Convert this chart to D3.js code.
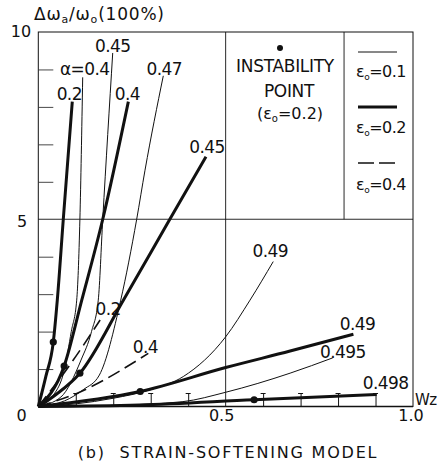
<!DOCTYPE html>
<html>
<head>
<meta charset="utf-8">
<script src="https://cdn.jsdelivr.net/npm/d3@7"></script>
<style>
  html, body { margin: 0; padding: 0; background: #fff; }
  svg { display: block; }
  text { font-family: "DejaVu Sans", sans-serif; fill: #111; }
</style>
</head>
<body>
<svg id="chart" width="439" height="470"></svg>
<script>
// Frequency shift Δω/ω0 against Wz, strain-softening model.
// Curves grouped by s0 (thin 0.1, thick 0.2, dashed 0.4), labelled by α.

// s0 = 0.1 (thin lines)
const thin_a040  = [[0,0],[0.04,0.3],[0.07,1.0],[0.088,2.0],[0.1025,2.84],[0.111,5.0],[0.1185,8.79]];
const thin_a045  = [[0,0],[0.06,0.25],[0.114,1.24],[0.142,2.0],[0.160,2.84],[0.172,5.0],[0.1986,9.44]];
const thin_a047  = [[0,0],[0.07,0.15],[0.12,0.45],[0.163,0.84],[0.22,2.84],[0.2626,5.0],[0.2848,6.31],[0.3336,8.83]];
const thin_a049  = [[0,0],[0.1,0.07],[0.2,0.22],[0.3,0.45],[0.387,0.80],[0.5,1.86],[0.565,2.84],[0.627,3.87]];
const thin_a0495 = [[0,0],[0.2,0.03],[0.386,0.13],[0.5,0.38],[0.672,0.89],[0.786,1.30]];

// s0 = 0.2 (thick lines)
const thick_a020  = [[0,0],[0.02,0.8],[0.040,1.72],[0.0507,2.84],[0.0667,5.0],[0.0907,8.14]];
const thick_a040  = [[0,0],[0.069,1.08],[0.116,2.84],[0.172,5.0],[0.2403,8.14]];
const thick_a045  = [[0,0],[0.05,0.34],[0.111,0.89],[0.227,2.84],[0.351,5.0],[0.4476,6.67]];
const thick_a049  = [[0,0],[0.272,0.40],[0.5,1.04],[0.672,1.48],[0.841,1.93]];
const thick_a0498 = [[0,0],[0.27,0.04],[0.576,0.18],[0.903,0.32]];

// s0 = 0.4 (dashed lines)
const dash_a020 = [[0,0],[0.0842,1.11],[0.165,2.31]];
const dash_a040 = [[0,0],[0.1025,0.35],[0.2936,1.42]];

// instability points (s0 = 0.2)
const instabilityPoints = [[0.040,1.72],[0.069,1.08],[0.111,0.89],[0.272,0.40],[0.576,0.18]];

// axis ticks and labels
const yMinorTicks = [1,2,3,4,6,7,8,9];
const xMinorTicks = [0.1,0.2,0.3,0.4,0.6,0.7,0.8,0.9];
const yTickLabels = ["10","5"];
const xTickLabels = ["0","0.5","1.0"];

const series = [
  { data: thin_a040,   kind: "thin",  label: "α=0.4", off: [2,-2] },
  { data: thin_a045,   kind: "thin",  label: "0.45",  off: [0,-1] },
  { data: thin_a047,   kind: "thin",  label: "0.47",  off: [1,-1] },
  { data: thin_a049,   kind: "thin",  label: "0.49",  off: [-3,-5] },
  { data: thin_a0495,  kind: "thin",  label: "0.495", off: [10,0] },
  { data: thick_a020,  kind: "thick", label: "0.2",   off: [-3,-2] },
  { data: thick_a040,  kind: "thick", label: "0.4",   off: [-1,-2] },
  { data: thick_a045,  kind: "thick", label: "0.45",  off: [1,-4] },
  { data: thick_a049,  kind: "thick", label: "0.49",  off: [4,-4] },
  { data: thick_a0498, kind: "thick", label: "0.498", off: [9,-6] },
  { data: dash_a020,   kind: "dash",  label: "0.2",   off: [8,-5] },
  { data: dash_a040,   kind: "dash",  label: "0.4",   off: [-3,0] }
];

const styles = {
  thin:  { w: 1.0, dash: null },
  thick: { w: 3.0, dash: null },
  dash:  { w: 1.6, dash: "13,6" }
};

const svg = d3.select("#chart");
const x = d3.scaleLinear().domain([0, 1]).range([38.3, 413]);
const y = d3.scaleLinear().domain([0, 10]).range([406.5, 32]);
const ink = "#111";

// frame and reference grid lines
const frame = svg.append("g").attr("stroke", ink).attr("fill", "none");
frame.append("rect")
  .attr("x", x(0)).attr("y", y(10))
  .attr("width", x(1) - x(0)).attr("height", y(0) - y(10))
  .attr("stroke-width", 1);
frame.append("line").attr("x1", x(0.5)).attr("x2", x(0.5)).attr("y1", y(0)).attr("y2", y(10)).attr("stroke-width", 0.9);
frame.append("line").attr("x1", x(0)).attr("x2", x(1)).attr("y1", y(5)).attr("y2", y(5)).attr("stroke-width", 0.9);
frame.append("line").attr("x1", x(0.816)).attr("x2", x(0.816)).attr("y1", y(5)).attr("y2", y(10)).attr("stroke-width", 0.9);
frame.append("line").attr("x1", x(0)).attr("x2", x(1)).attr("y1", y(0)).attr("y2", y(0)).attr("stroke-width", 1.6);

// inward ticks
const yAxis = d3.axisRight(y).tickValues(yMinorTicks).tickSize(15).tickFormat("");
svg.append("g").attr("transform", `translate(${x(0)},0)`).call(yAxis)
  .call(g => g.select(".domain").remove())
  .call(g => g.selectAll("line").attr("stroke", "#333").attr("stroke-width", 0.9));
const xAxis = d3.axisTop(x).tickValues(xMinorTicks).tickSize(13).tickFormat("");
svg.append("g").attr("transform", `translate(0,${y(0)})`).call(xAxis)
  .call(g => g.select(".domain").remove())
  .call(g => g.selectAll("line").attr("stroke", ink).attr("stroke-width", 1));
svg.append("g").selectAll("line").data(xMinorTicks).join("line")
  .attr("x1", d => x(d) - 2.5).attr("x2", d => x(d) + 2.5)
  .attr("y1", y(0) - 13).attr("y2", y(0) - 13)
  .attr("stroke", ink).attr("stroke-width", 1);

// curves
const line = d3.line().x(d => x(d[0])).y(d => y(d[1])).curve(d3.curveMonotoneX);
svg.append("g").selectAll("path").data(series).join("path")
  .attr("d", d => line(d.data))
  .attr("fill", "none")
  .attr("stroke", ink)
  .attr("stroke-width", d => styles[d.kind].w)
  .attr("stroke-dasharray", d => styles[d.kind].dash);

// instability dots
svg.append("g").selectAll("circle").data(instabilityPoints).join("circle")
  .attr("cx", d => x(d[0])).attr("cy", d => y(d[1])).attr("r", 3.6).attr("fill", ink);

// curve labels at their end points
svg.append("g").selectAll("text").data(series).join("text")
  .attr("x", d => x(d.data[d.data.length - 1][0]) + d.off[0])
  .attr("y", d => y(d.data[d.data.length - 1][1]) + d.off[1])
  .attr("text-anchor", "middle")
  .attr("font-size", 17)
  .attr("letter-spacing", -0.6)
  .text(d => d.label);

// tick labels
svg.append("text").attr("x", 21).attr("y", 37).attr("text-anchor", "middle").attr("font-size", 16).text(yTickLabels[0]);
svg.append("text").attr("x", 22).attr("y", 227).attr("text-anchor", "middle").attr("font-size", 16).text(yTickLabels[1]);
svg.append("text").attr("x", 21.5).attr("y", 421).attr("text-anchor", "middle").attr("font-size", 16).text(xTickLabels[0]);
svg.append("text").attr("x", x(0.5) - 4).attr("y", 421).attr("text-anchor", "middle").attr("font-size", 16).text(xTickLabels[1]);
svg.append("text").attr("x", x(1) - 2).attr("y", 421).attr("text-anchor", "middle").attr("font-size", 16).text(xTickLabels[2]);

// axis titles
const yt = svg.append("text").attr("x", 34).attr("y", 20).attr("font-size", 17).attr("letter-spacing", 0.8);
yt.append("tspan").text("Δω");
yt.append("tspan").attr("font-size", 11).attr("dy", 3).text("a");
yt.append("tspan").attr("dy", -3).text("/ω");
yt.append("tspan").attr("font-size", 11).attr("dy", 3).text("o");
yt.append("tspan").attr("dy", -3).text("(100%)");
svg.append("text").attr("x", 415).attr("y", 405).attr("font-size", 15).attr("letter-spacing", -0.5).text("Wz");

// instability legend
svg.append("circle").attr("cx", 280).attr("cy", 48).attr("r", 3).attr("fill", ink);
svg.append("text").attr("x", 285).attr("y", 72).attr("text-anchor", "middle").attr("font-size", 17).attr("letter-spacing", -0.3).text("INSTABILITY");
svg.append("text").attr("x", 289).attr("y", 97).attr("text-anchor", "middle").attr("font-size", 17).attr("letter-spacing", -0.3).text("POINT");
const ip = svg.append("text").attr("x", 290).attr("y", 119).attr("text-anchor", "middle").attr("font-size", 16);
ip.append("tspan").text("(ε");
ip.append("tspan").attr("font-size", 10).attr("dy", 3).text("o");
ip.append("tspan").attr("dy", -3).text("=0.2)");

// line-style legend
const legendRows = [
  { kind: "thin",  label: "0.1", ly: 52,  ty: 77 },
  { kind: "thick", label: "0.2", ly: 107, ty: 133 },
  { kind: "dash",  label: "0.4", ly: 163, ty: 190 }
];
const lg = svg.append("g");
legendRows.forEach(r => {
  lg.append("line").attr("x1", 358).attr("x2", 397).attr("y1", r.ly).attr("y2", r.ly)
    .attr("stroke", ink).attr("stroke-width", styles[r.kind].w)
    .attr("stroke-dasharray", r.kind === "dash" ? "16,5" : null);
  const t = lg.append("text").attr("x", 381).attr("y", r.ty).attr("text-anchor", "middle").attr("font-size", 16).attr("letter-spacing", -0.5);
  t.append("tspan").text("ε");
  t.append("tspan").attr("font-size", 9).attr("dy", 3).text("o");
  t.append("tspan").attr("dy", -3).text("=" + r.label);
});

// caption
svg.append("text").attr("x", 228).attr("y", 458).attr("text-anchor", "middle").attr("font-size", 16)
  .attr("letter-spacing", 1.8).attr("xml:space", "preserve").text("(b)  STRAIN-SOFTENING MODEL");
</script>
</body>
</html>
